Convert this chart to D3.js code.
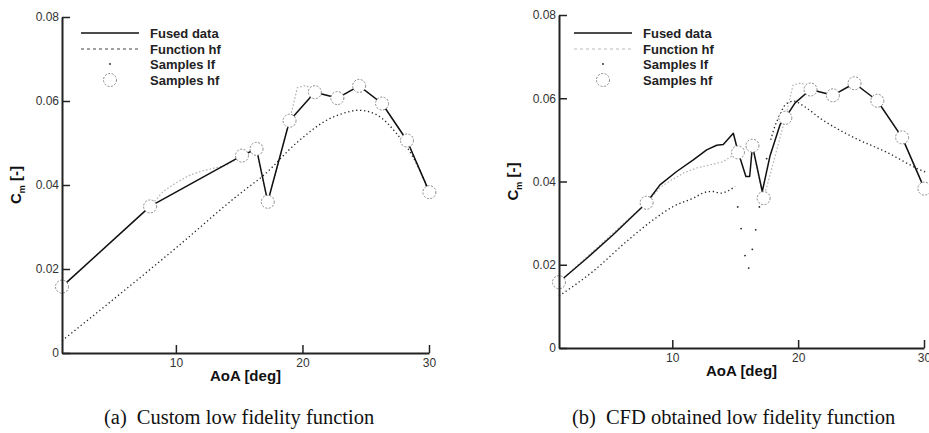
<!DOCTYPE html>
<html>
<head>
<meta charset="utf-8">
<script src="https://cdn.jsdelivr.net/npm/d3@7"></script>
<style>
  body { margin: 0; background: #fff; }
  svg { display: block; }
</style>
</head>
<body>
<div id="placeholder"></div>
<script>
// high fidelity samples (same in both panels)
var hfAoa = [1, 7.96, 15.22, 16.37, 17.26, 18.98, 20.98, 22.76, 24.48, 26.29, 28.26, 30.03];
var hfCm  = [0.0158, 0.0349, 0.0470, 0.0486, 0.0360, 0.0553, 0.0621, 0.0607, 0.0636, 0.0594, 0.0506, 0.0383];

// true high fidelity function (light grey dotted)
var funcAoa = [1, 7.96, 9, 10, 11, 12, 13, 14, 15.22, 16.37, 16.8, 17.26, 17.95, 18.98, 19.6, 20.3, 20.98, 22.76, 24.48, 26.29, 28.26, 30.03];
var funcCm  = [0.0158, 0.0349, 0.0385, 0.0405, 0.0422, 0.0433, 0.0440, 0.0447, 0.0470, 0.0486, 0.0420, 0.0360, 0.0436, 0.0553, 0.0632, 0.0637, 0.0621, 0.0607, 0.0636, 0.0594, 0.0506, 0.0383];

// (a) custom low fidelity function samples
var lfAoaA = [1, 10, 15, 17, 19.52, 22.15, 23.5, 24.4, 25.3, 26.1, 27.42, 28.73, 29.78, 30];
var lfCmA  = [0.0029, 0.0250, 0.0378, 0.0425, 0.0500, 0.0558, 0.0573, 0.0578, 0.0574, 0.0563, 0.0523, 0.0467, 0.0400, 0.0383];

// (a) fused data
var fusedAoaA = [1, 7.96, 15.22, 16.37, 17.26, 18.98, 20.98, 22.76, 24.48, 26.29, 28.26, 30.03];
var fusedCmA  = [0.0158, 0.0349, 0.0470, 0.0486, 0.0360, 0.0553, 0.0621, 0.0607, 0.0636, 0.0594, 0.0506, 0.0383];

// (b) CFD low fidelity samples: attached part, stall scatter, post stall
var lfLowAoaB = [1, 3.7, 6.37, 8.49, 10.08, 11.67, 12.73, 13.26, 13.8, 15];
var lfLowCmB  = [0.0125, 0.0184, 0.0256, 0.0308, 0.0340, 0.0360, 0.0375, 0.0376, 0.0372, 0.0388];
var lfDipAoaB = [15.2, 15.47, 15.78, 16.07, 16.36, 16.63, 16.92, 17.5];
var lfDipCmB  = [0.0339, 0.0287, 0.0222, 0.0192, 0.0237, 0.0284, 0.0339, 0.0455];
var lfHighAoaB = [17.82, 18.17, 18.5, 19.0, 19.62, 20.5, 21.75, 24.4, 27.05, 29.7, 30.1];
var lfHighCmB  = [0.0500, 0.0534, 0.0557, 0.0585, 0.0593, 0.0580, 0.0552, 0.0506, 0.0470, 0.0428, 0.0423];

// (b) fused data
var fusedAoaB = [1, 1.33, 3.19, 5.3, 7.96, 9.02, 10.35, 11.67, 12.73, 13.53, 14.05, 14.85, 15.22, 15.85, 16.15, 16.37, 17.15, 17.77, 18.57, 18.98, 19.76, 20.98, 22.76, 24.48, 26.29, 28.26, 30.03];
var fusedCmB  = [0.0160, 0.0167, 0.0215, 0.0272, 0.0349, 0.0392, 0.0424, 0.0452, 0.0476, 0.0487, 0.0489, 0.0516, 0.0472, 0.0412, 0.0412, 0.0486, 0.0376, 0.0462, 0.0537, 0.0553, 0.0589, 0.0621, 0.0607, 0.0636, 0.0594, 0.0506, 0.0383];

var yTicks = [0, 0.02, 0.04, 0.06, 0.08];
var xTicks = [10, 20, 30];
var legendLabels = ["Fused data", "Function hf", "Samples lf", "Samples hf"];
var captionTags = ["(a)", "(b)"];
var captionTexts = ["Custom low fidelity function", "CFD obtained low fidelity function"];

function zip(xs, ys) { return xs.map(function (d, i) { return [d, ys[i]]; }); }

var W = 929, H = 433;
var svg = d3.select("#placeholder").append("svg")
    .attr("width", W).attr("height", H)
    .attr("font-family", "Liberation Sans, Arial, Helvetica, sans-serif");

function drawPanel(p) {
    var x = d3.scaleLinear().domain([1, 30]).range([p.left, p.right]);
    var y = d3.scaleLinear().domain([0, 0.08]).range([p.bottom, p.top]);
    var line = d3.line().x(function (d) { return x(d[0]); }).y(function (d) { return y(d[1]); });
    var smooth = d3.line().curve(d3.curveMonotoneX).x(function (d) { return x(d[0]); }).y(function (d) { return y(d[1]); });
    var g = svg.append("g");

    // true hf function, light grey dotted
    g.append("path").attr("d", line(zip(funcAoa, funcCm)))
        .attr("fill", "none").attr("stroke", "#b4b4b4").attr("stroke-width", 1.2)
        .attr("stroke-dasharray", "1.6,2");

    // low fidelity samples
    p.lf.forEach(function (s) {
        g.append("path").attr("d", smooth(zip(s[0], s[1])))
            .attr("fill", "none").attr("stroke", "#222").attr("stroke-width", 1.3)
            .attr("stroke-dasharray", "1.3,2.7");
    });
    if (p.lfDots) {
        g.selectAll(null).data(zip(p.lfDots[0], p.lfDots[1])).enter().append("circle")
            .attr("cx", function (d) { return x(d[0]); })
            .attr("cy", function (d) { return y(d[1]); })
            .attr("r", 0.9).attr("fill", "#222");
    }

    // fused data
    g.append("path").attr("d", line(zip(p.fused[0], p.fused[1])))
        .attr("fill", "none").attr("stroke", "#111").attr("stroke-width", 1.5)
        .attr("stroke-linejoin", "round");

    // hf samples
    g.selectAll(null).data(zip(hfAoa, hfCm)).enter().append("circle")
        .attr("cx", function (d) { return x(d[0]); })
        .attr("cy", function (d) { return y(d[1]); })
        .attr("r", 6.5).attr("fill", "#fff")
        .attr("stroke", "#888").attr("stroke-width", 1)
        .attr("stroke-dasharray", "2,1.5");

    // axes
    var ya = g.append("g").attr("transform", "translate(" + p.left + ",0)")
        .call(d3.axisLeft(y).tickValues(yTicks).tickSize(-8).tickSizeOuter(0).tickPadding(3)
            .tickFormat(function (d) { return d === 0 ? "0" : d3.format(".2f")(d); }));
    var xa = g.append("g").attr("transform", "translate(0," + p.bottom + ")")
        .call(d3.axisBottom(x).tickValues(xTicks).tickSize(-8).tickSizeOuter(0).tickPadding(5));
    [ya, xa].forEach(function (a) {
        a.select(".domain").attr("stroke", "#222").attr("stroke-width", 2);
        a.selectAll(".tick line").attr("stroke", "#222").attr("stroke-width", 1.5);
        a.selectAll(".tick text").attr("fill", "#333").attr("font-size", 12)
            .attr("font-family", "Liberation Sans, Arial, sans-serif");
    });

    // axis titles
    g.append("text").attr("x", (p.left + p.right) / 2).attr("y", p.bottom + 28)
        .attr("text-anchor", "middle").attr("font-weight", "bold").attr("font-size", 15)
        .attr("fill", "#111").text("AoA [deg]");
    var yl = g.append("text")
        .attr("transform", "translate(" + (p.left - 41) + "," + ((p.top + p.bottom) / 2) + ") rotate(-90)")
        .attr("text-anchor", "middle").attr("font-weight", "bold").attr("font-size", 15).attr("fill", "#111");
    yl.append("tspan").text("C");
    yl.append("tspan").attr("font-size", 9).attr("dy", 4).text("m");
    yl.append("tspan").attr("dy", -4).text(" [-]");

    // legend
    var rows = [33, 49, 64, 80];
    var lx0 = p.legendX, lx1 = p.legendX + 58, lxm = p.legendX + 29, tx = p.legendX + 69;
    g.append("line").attr("x1", lx0).attr("x2", lx1).attr("y1", rows[0]).attr("y2", rows[0])
        .attr("stroke", "#111").attr("stroke-width", 1.5);
    g.append("line").attr("x1", lx0).attr("x2", lx1).attr("y1", rows[1]).attr("y2", rows[1])
        .attr("stroke", p.funcLegendColor).attr("stroke-width", 1.2).attr("stroke-dasharray", "3,3");
    g.append("circle").attr("cx", lxm).attr("cy", rows[2]).attr("r", 0.9).attr("fill", "#222");
    g.append("circle").attr("cx", lxm).attr("cy", rows[3]).attr("r", 6.5).attr("fill", "#fff")
        .attr("stroke", "#888").attr("stroke-width", 1).attr("stroke-dasharray", "2,1.5");
    g.selectAll(null).data(legendLabels).enter().append("text")
        .attr("x", tx).attr("y", function (d, i) { return rows[i] + 5; })
        .attr("font-weight", "bold").attr("font-size", 13).attr("fill", "#222")
        .text(function (d) { return d; });

    // caption
    var c = svg.append("text").attr("x", p.captionX).attr("y", 424)
        .attr("font-family", "Liberation Serif, Times New Roman, serif").attr("font-size", 20.5).attr("fill", "#111");
    c.append("tspan").text(p.tag);
    c.append("tspan").attr("dx", 10).text(p.caption);
}

drawPanel({
    left: 62, right: 429, top: 17, bottom: 353, legendX: 81,
    funcLegendColor: "#444",
    lf: [[lfAoaA, lfCmA]], lfDots: null,
    fused: [fusedAoaA, fusedCmA],
    captionX: 104, tag: captionTags[0], caption: captionTexts[0]
});
drawPanel({
    left: 559, right: 924, top: 15, bottom: 348, legendX: 574,
    funcLegendColor: "#bbb",
    lf: [[lfLowAoaB, lfLowCmB], [lfHighAoaB, lfHighCmB]], lfDots: [lfDipAoaB, lfDipCmB],
    fused: [fusedAoaB, fusedCmB],
    captionX: 572, tag: captionTags[1], caption: captionTexts[1]
});
</script>
</body>
</html>
